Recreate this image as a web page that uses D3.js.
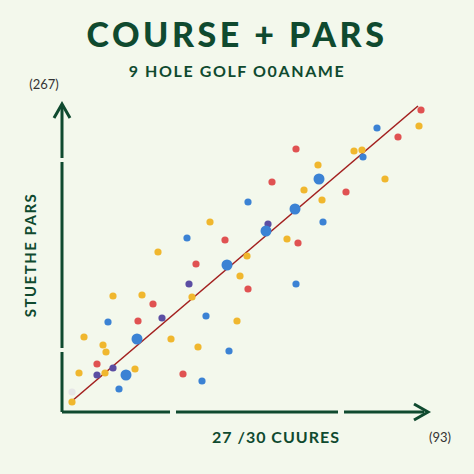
<!DOCTYPE html>
<html><head><meta charset="utf-8">
<script src="https://cdn.jsdelivr.net/npm/d3@7"></script>
<style>body{margin:0;background:#f3f8ec}svg{display:block}</style>
</head><body><svg id="chart" width="474" height="474"></svg>
<script>
// Points: [x, y, colour group, big]
const xs = [359,357,315,336,234,292,300,301,256,257,323,210,242,284,260,186,233,261,148,206,204,125,163,225,236,96,185,134,165,178,127,234,186,51,80,130,91,46,100,144,76,175,22,75,109,41,44,136,167,35,51,73,17,43,35,64,121,140,57,10,10];
const ys = [302,286,284,275,263,261,262,255,247,233,233,230,222,220,212,210,203,190,190,188,181,174,172,173,169,160,156,148,147,136,128,128,123,116,117,115,108,90,94,96,91,91,75,73,73,67,60,65,61,48,44,43,39,39,37,37,38,31,23,10,20];
const groups = ["r","y","b","r","r","y","y","b","y","b","y","r","y","r","y","b","b","b","y","p","b","b","r","y","r","y","y","r","b","y","p","b","r","y","y","y","r","b","p","b","r","y","y","b","y","y","y","y","b","r","p","y","y","y","p","b","r","b","b","y","w"];
const big = [9,16,20,28,43,55];
const lineEnds = [[10,11],[356,306]];
const colours = {r:"#e05252", y:"#f0b72e", b:"#3b82d4", p:"#5b4ea3", w:"#e6e6e6"};
const green = "#0f4a2f";

const svg = d3.select("#chart");
const x = d3.scaleLinear().domain([0, 366]).range([62, 428]);
const y = d3.scaleLinear().domain([0, 307]).range([412, 105]);

svg.append("rect").attr("width", 474).attr("height", 474).attr("fill", "#f3f8ec");

// Title
svg.append("text").attr("x", 237).attr("y", 47).attr("text-anchor", "middle")
    .attr("font-family", "Lato, sans-serif").attr("font-weight", 900).attr("font-size", 34)
    .attr("letter-spacing", 3.5).attr("fill", green).text("COURSE + PARS");
svg.append("text").attr("x", 237).attr("y", 77).attr("text-anchor", "middle")
    .attr("font-family", "Lato, sans-serif").attr("font-weight", 700).attr("font-size", 16)
    .attr("letter-spacing", 1.6).attr("fill", green).text("9 HOLE GOLF  O0ANAME");

// Axes with small breaks
const ax = svg.append("g").attr("stroke", green).attr("stroke-width", 3).attr("fill", "none");
[[412, 352], [348, 162], [158, 106]].forEach(s =>
    ax.append("line").attr("x1", 62).attr("x2", 62).attr("y1", s[0]).attr("y2", s[1]));
[[62, 170], [176, 338], [344, 424]].forEach(s =>
    ax.append("line").attr("y1", 412).attr("y2", 412).attr("x1", s[0]).attr("x2", s[1]));
ax.append("path").attr("d", "M54,118 L62,104 L70,118");
ax.append("path").attr("d", "M414,404 L428,412 L414,420");

// Labels
const lab = (t, px, py, opts = {}) => svg.append("text").attr("x", px).attr("y", py)
    .attr("text-anchor", "middle").attr("font-family", "Lato, sans-serif")
    .attr("font-size", opts.size || 13).attr("font-weight", opts.w || 400)
    .attr("letter-spacing", opts.ls || 0)
    .attr("fill", opts.fill || "#333").attr("transform", opts.rot || null).text(t);
lab("(267)", 44, 89);
lab("(93)", 440, 442);
lab("27 /30  CUURES", 276, 443, {size: 16, w: 700, fill: green, ls: 1});
lab("STUETHE PARS", 36, 255, {size: 15, w: 700, fill: green, ls: 1.5, rot: "rotate(-90,36,255)"});

// Trend line
svg.append("line").attr("x1", x(lineEnds[0][0])).attr("y1", y(lineEnds[0][1]))
    .attr("x2", x(lineEnds[1][0])).attr("y2", y(lineEnds[1][1]))
    .attr("stroke", "#a3201f").attr("stroke-width", 1.6);

// Points
svg.append("g").selectAll("circle").data(xs).enter().append("circle")
    .attr("cx", (d, i) => x(d)).attr("cy", (d, i) => y(ys[i]))
    .attr("r", (d, i) => big.includes(i) ? 5.5 : 3.6)
    .attr("fill", (d, i) => colours[groups[i]]);
</script></body></html>
